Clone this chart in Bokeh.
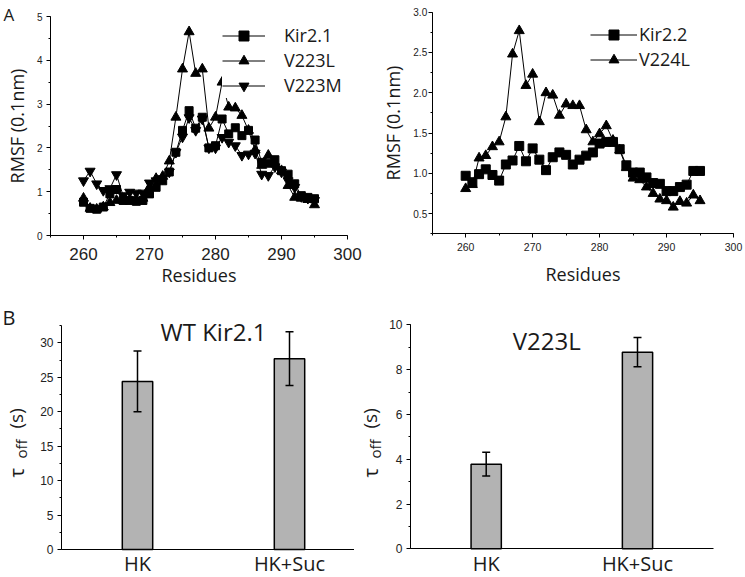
import math
from bokeh.plotting import figure
from bokeh.models import (Range1d, SingleIntervalTicker, FixedTicker, Legend, LegendItem,
                          Label, LabelSet, ColumnDataSource, Whisker, TeeHead,
                          PrintfTickFormatter)
from bokeh.layouts import column, row
from bokeh.embed import file_html
from bokeh.resources import INLINE
from bokeh.core.properties import value

# ---------------- data ----------------
residues = [260, 261, 262, 263, 264, 265, 266, 267, 268, 269,
            270, 271, 272, 273, 274, 275, 276, 277, 278, 279,
            280, 281, 282, 283, 284, 285, 286, 287, 288, 289,
            290, 291, 292, 293, 294, 295]

kir21 = [0.76, 0.62, 0.60, 0.65, 0.95, 1.05, 0.80, 0.80, 0.78, 0.80,
         0.95, 1.10, 1.25, 1.45, 1.90, 2.40, 2.85, 2.45, 2.70, 2.00,
         2.05, 2.66, 2.32, 2.46, 2.28, 2.40, 2.18, 1.67, 1.65, 1.73,
         1.48, 1.40, 1.18, 0.91, 0.87, 0.84]
v223l = [0.85, 0.62, 0.60, 0.65, 0.75, 0.80, 0.80, 0.80, 0.82, 0.85,
         1.10, 1.30, 1.35, 1.70, 2.70, 3.80, 4.65, 3.70, 3.80, 2.45,
         2.70, 3.50, 2.93, 2.91, 2.74, 2.40, 1.95, 1.60, 1.83, 1.64,
         1.48, 1.14, 0.87, 0.85, 0.82, 0.70]
v223m = [1.25, 1.47, 1.18, 1.03, 1.07, 1.39, 0.91, 0.99, 0.97, 0.97,
         1.20, 1.25, 1.30, 1.45, 1.90, 2.25, 2.69, 2.40, 2.66, 2.00,
         2.00, 2.24, 2.13, 2.05, 1.83, 1.86, 1.88, 1.40, 1.37, 1.57,
         1.45, 1.25, 1.10, 0.89, 0.85, 0.80]

kir22 = [0.97, 0.89, 0.99, 1.05, 0.98, 0.91, 1.11, 1.16, 1.34, 1.15,
         1.31, 1.17, 1.04, 1.20, 1.26, 1.23, 1.11, 1.17, 1.22, 1.26,
         1.37, 1.39, 1.39, 1.30, 1.10, 1.01, 1.01, 0.95, 0.88, 0.87,
         0.78, 0.78, 0.83, 0.86, 1.03, 1.03]
v224l = [0.81, 0.86, 1.19, 1.22, 1.33, 1.39, 1.70, 2.48, 2.77, 2.09,
         2.23, 1.64, 2.00, 1.97, 1.72, 1.86, 1.84, 1.84, 1.54, 1.39,
         1.49, 1.59, 1.41, 1.29, 1.07, 0.94, 0.92, 0.83, 0.75, 0.68,
         0.66, 0.58, 0.65, 0.63, 0.73, 0.66]

conditions = ["HK", "HK+Suc"]
wt_means = [24.4, 27.7]
wt_errors = [4.4, 3.9]
v223l_means = [3.78, 8.78]
v223l_errors = [0.53, 0.65]

# ---------------- styles ----------------
FONT = "Open Sans"
TICKFONT = "Liberation Sans"
TXT = "#1a1a1a"


def lin(v0, p0, v1, p1):
    """value at a page pixel, given two (value, pixel) anchors"""
    k = (v1 - v0) / (p1 - p0)
    return lambda p: v0 + (p - p0) * k


class Panel:
    def __init__(self, left, top, w, h, fx, fy):
        self.left, self.top, self.w, self.h = left, top, w, h
        self.fx, self.fy = fx, fy
        self.p = figure(width=w, height=h,
                        x_range=Range1d(fx(left), fx(left + w)),
                        y_range=Range1d(fy(top + h), fy(top)),
                        output_backend="svg", toolbar_location=None,
                        min_border_left=0, min_border_right=0,
                        min_border_top=0, min_border_bottom=0)
        p = self.p
        p.outline_line_color = None
        p.xgrid.visible = False
        p.ygrid.visible = False
        p.background_fill_color = "white"
        p.border_fill_color = "white"


def style_axis(ax, tick_px, major_out=4, minor_out=2, standoff=4):
    ax.axis_line_color = "black"
    ax.axis_line_width = 1
    ax.major_tick_in = 0
    ax.major_tick_out = major_out
    ax.minor_tick_in = 0
    ax.minor_tick_out = minor_out
    ax.major_tick_line_color = "black"
    ax.minor_tick_line_color = "black"
    ax.major_label_text_font = TICKFONT
    ax.major_label_text_font_size = f"{tick_px}px"
    ax.major_label_text_color = "#222222"
    ax.major_label_standoff = standoff
    ax.axis_label_text_font = FONT
    ax.axis_label_text_font_style = "normal"
    ax.axis_label_text_font_size = "18px"
    ax.axis_label_text_color = TXT


def add_series(p, xs, ys, marker, size):
    ln = p.line(xs, ys, line_color="black", line_width=1)
    sc = p.scatter(xs, ys, marker=marker, size=size, fill_color="black", line_color="black")
    return [ln, sc]


def text_label(panel, x, y, text, size, **kw):
    """text placed at a page-pixel anchor, converted through the panel's data mapping"""
    opts = dict(text_font=FONT, text_font_size=f"{size}px", text_color=TXT,
                text_align="left", text_baseline="alphabetic")
    opts.update(kw)
    panel.p.add_layout(Label(x=panel.fx(x), y=panel.fy(y), text=text, **opts))


# ---------------- Panel A left ----------------
A1 = Panel(0, 0, 372, 300, lin(255, 50, 300, 347), lin(0, 235, 5, 16))
pA1 = A1.p
pA1.xaxis.ticker = SingleIntervalTicker(interval=10, num_minor_ticks=2)
pA1.yaxis.ticker = SingleIntervalTicker(interval=1, num_minor_ticks=2)
pA1.xaxis.fixed_location = 0
pA1.yaxis.fixed_location = 255
pA1.xaxis.bounds = (255, 300)
pA1.yaxis.bounds = (0, 5)
style_axis(pA1.xaxis[0], 17, standoff=8)
style_axis(pA1.yaxis[0], 10, standoff=4)
pA1.xaxis.axis_label = "Residues"
pA1.yaxis.axis_label = "RMSF (0.1nm)"
pA1.xaxis.axis_label_standoff = 0
pA1.yaxis.axis_label_standoff = 5

r1 = add_series(pA1, residues, kir21, "square", 8)
r2 = add_series(pA1, residues, v223l, "triangle", 10)
r3 = add_series(pA1, residues, v223m, "inverted_triangle", 10)
legA1 = Legend(items=[LegendItem(label="Kir2.1", renderers=r1),
                      LegendItem(label="V223L", renderers=r2),
                      LegendItem(label="V223M", renderers=r3)],
               location=(222, 300 - 97.5), glyph_width=43, glyph_height=25,
               label_height=20, spacing=0, label_standoff=19, padding=3, margin=0,
               border_line_color=None, background_fill_color="white",
               background_fill_alpha=1.0, label_text_font=FONT,
               label_text_font_size="18px", label_text_color=TXT)
pA1.add_layout(legA1)
text_label(A1, 3, 14, "A", 17)

# ---------------- Panel A right ----------------
A2 = Panel(372, 0, 373, 300, lin(255, 431.7, 300, 733), lin(0.25, 233.3, 3.0, 11.7))
pA2 = A2.p
pA2.xaxis.ticker = SingleIntervalTicker(interval=10, num_minor_ticks=2)
pA2.yaxis.ticker = SingleIntervalTicker(interval=0.5, num_minor_ticks=2)
pA2.yaxis.formatter = PrintfTickFormatter(format="%.1f")
pA2.xaxis.fixed_location = 0.25
pA2.yaxis.fixed_location = 255
pA2.xaxis.bounds = (255, 300)
pA2.yaxis.bounds = (0.25, 3.0)
style_axis(pA2.xaxis[0], 10.5, standoff=5)
style_axis(pA2.yaxis[0], 10, standoff=1)
pA2.xaxis.axis_label = "Residues"
pA2.yaxis.axis_label = "RMSF (0.1nm)"
pA2.xaxis.axis_label_standoff = 8
pA2.yaxis.axis_label_standoff = 6

q1 = add_series(pA2, residues, kir22, "square", 9)
q2 = add_series(pA2, residues, v224l, "triangle", 10)
legA2 = Legend(items=[LegendItem(label="Kir2.2", renderers=q1),
                      LegendItem(label="V224L", renderers=q2)],
               location=(590 - 372, 300 - 71.5), glyph_width=47, glyph_height=25,
               label_height=20, spacing=0, label_standoff=2, padding=3, margin=0,
               border_line_color=None, background_fill_color="white",
               background_fill_alpha=1.0, label_text_font=FONT,
               label_text_font_size="18px", label_text_color=TXT)
pA2.add_layout(legA2)


# ---------------- Panel B ----------------
def bar_panel(left, w, fx, fy, x_lo_px, x_hi_px, axis_px, y_end, interval, means, errors,
              title, title_x, title_base, ylab_x):
    P = Panel(left, 300, w, 277, fx, fy)
    p = P.p
    xpos = [i + 1 for i in range(len(conditions))]
    p.xaxis.ticker = FixedTicker(ticks=[])
    p.yaxis.ticker = SingleIntervalTicker(interval=interval, num_minor_ticks=2)
    p.xaxis.fixed_location = 0
    p.yaxis.fixed_location = fx(x_lo_px)
    p.xaxis.bounds = (fx(x_lo_px), fx(x_hi_px))
    p.yaxis.bounds = (0, y_end)
    style_axis(p.xaxis[0], 12, major_out=0, minor_out=0)
    style_axis(p.yaxis[0], 12, standoff=4)
    src = ColumnDataSource(dict(x=xpos, top=means,
                                upper=[m + e for m, e in zip(means, errors)],
                                lower=[m - e for m, e in zip(means, errors)],
                                base=[0] * len(means), cond=conditions))
    p.vbar(x="x", top="top", width=0.2, source=src, fill_color="#b3b3b3",
           line_color="black", line_width=1.5)
    p.add_layout(Whisker(base="x", upper="upper", lower="lower", source=src,
                         level="overlay", line_color="black", line_width=1.5,
                         upper_head=TeeHead(size=8, line_width=1.5, line_color="black"),
                         lower_head=TeeHead(size=8, line_width=1.5, line_color="black")))
    # category labels below the axis
    p.add_layout(LabelSet(x="x", y="base", text="cond", source=src,
                          y_offset=-(570 - axis_px),
                          text_font=value(FONT), text_font_size=value("20px"),
                          text_color=value(TXT), text_align="center",
                          text_baseline="alphabetic"))
    # panel title
    p.add_layout(Label(x=title_x, y=fy(title_base), text=title,
                       text_font=FONT, text_font_size="24px", text_color=TXT,
                       text_align="center", text_baseline="alphabetic"))
    # y axis label: tau with subscript "off", then "(s)"  (rotated)
    text_label(P, ylab_x, 477, "\u03c4", 20, angle=math.pi / 2)
    text_label(P, ylab_x + 4, 458, "off", 15, angle=math.pi / 2)
    text_label(P, ylab_x - 0.5, 428, "(s)", 19, angle=math.pi / 2)
    return P


B1 = bar_panel(0, 354, lin(1, 137, 2, 289), lin(0, 549, 30, 342.3), 61, 354, 549,
               32.5, 5, wt_means, wt_errors, "WT Kir2.1", 1.5, 331, 16)
B2 = bar_panel(354, 391, lin(1, 485.7, 2, 637), lin(0, 548.3, 10, 324.3), 410, 713, 548.3,
               10, 2, v223l_means, v223l_errors, "V223L", 1.4, 340, 370)
text_label(B1, 2, 317, "B", 20)

layout = column(row(A1.p, A2.p), row(B1.p, B2.p))
open("out.html", "w").write(file_html(layout, INLINE))
